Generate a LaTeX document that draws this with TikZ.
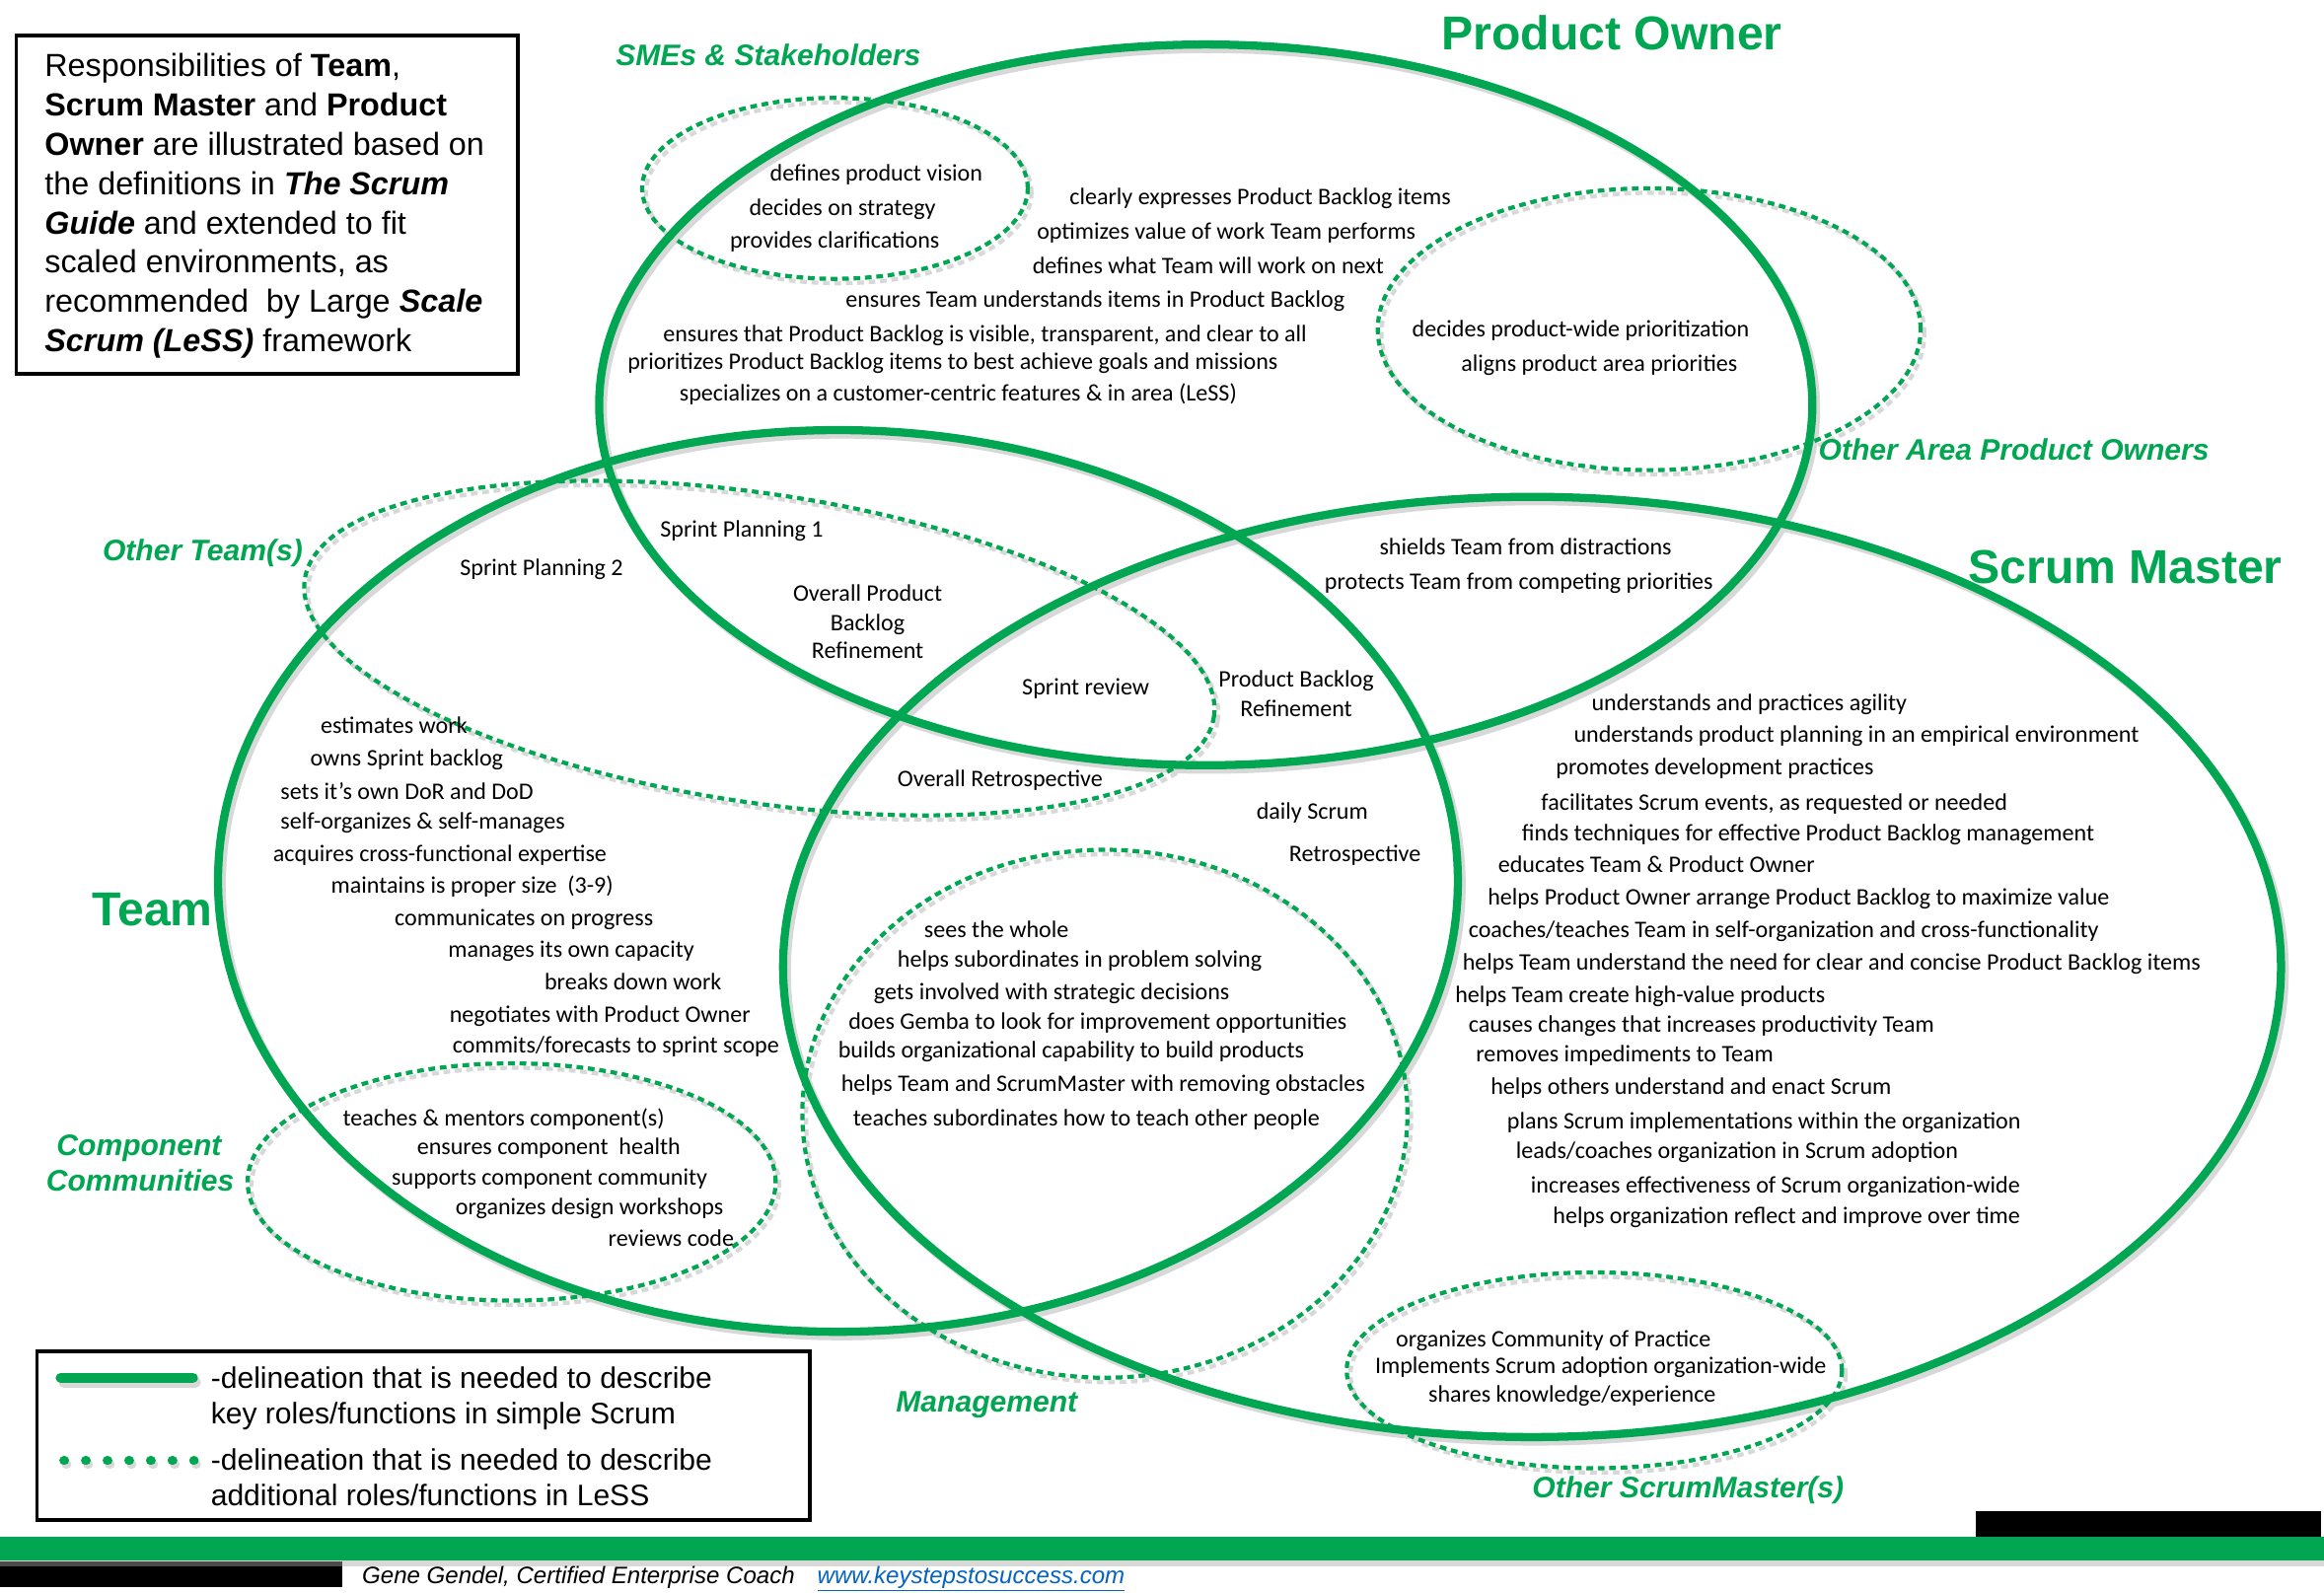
\documentclass[tikz,border=0pt]{standalone}
\usepackage{fontspec}
\usetikzlibrary{calc}
\setmainfont{Carlito}
\newfontfamily\arial{Liberation Sans}
\definecolor{grn}{RGB}{0,166,81}
\definecolor{shd}{RGB}{216,216,216}
\definecolor{lnk}{RGB}{5,99,193}
\begin{document}
\begin{tikzpicture}[x=1pt,y=-1pt,
  ring/.style={draw=grn, line width=5.5pt},
  ringshd/.style={draw=shd, line width=5.5pt},
  dring/.style={draw=grn, line width=2.8pt, dash pattern=on 4.5pt off 3.2pt},
  dringshd/.style={draw=shd, line width=2.8pt, dash pattern=on 4.5pt off 3.2pt},
  txt/.style={anchor=west, inner sep=0pt, font=\fontsize{16}{19}\selectfont, text height=10.5pt, text depth=0pt},
  ctxt/.style={txt, anchor=center},
  lab/.style={anchor=west, inner sep=0pt, text=grn, font=\arial\bfseries\itshape\fontsize{20}{24}\selectfont, text height=14.3pt, text depth=0pt},
  biglab/.style={lab, font=\arial\bfseries\fontsize{32}{38}\selectfont, text height=22.9pt},
  boxtxt/.style={anchor=west, inner sep=0pt, font=\arial\fontsize{21.5}{26}\selectfont, text height=15.4pt, text depth=0pt},
  legtxt/.style={anchor=west, inner sep=0pt, font=\arial\fontsize{20}{24}\selectfont, text height=14.3pt, text depth=0pt},
  foottxt/.style={anchor=west, inner sep=0pt, font=\arial\itshape\fontsize{16}{19}\selectfont, text height=11.5pt, text depth=0pt}
]
\useasboundingbox (0,0) rectangle (1567,1073.5);
\fill[white] (0,0) rectangle (1567,1073.5);

% ---------- shadows ----------
\begin{scope}[shift={(2.5,3)}]
  \draw[dringshd] (563,127) ellipse [x radius=130pt, y radius=61pt];
  \draw[dringshd] (1112,222) ellipse [x radius=183pt, y radius=95pt];
  \draw[dringshd, rotate around={-8.6:(512,437)}] (512,437) ellipse [x radius=310pt, y radius=104pt];
  \draw[dringshd] (745,751) ellipse [x radius=204pt, y radius=178pt];
  \draw[dringshd] (345,797) ellipse [x radius=178pt, y radius=80pt];
  \draw[dringshd] (1075,924) ellipse [x radius=167pt, y radius=66pt];
  \draw[ringshd] (813,273) ellipse [x radius=409pt, y radius=243pt];
  \draw[ringshd] (565,594) ellipse [x radius=418pt, y radius=304pt];
  \draw[ringshd] (1033,652) ellipse [x radius=505pt, y radius=317pt];
\end{scope}

% ---------- dashed (LeSS) ellipses ----------
\draw[dring] (563,127) ellipse [x radius=130pt, y radius=61pt];
\draw[dring] (1112,222) ellipse [x radius=183pt, y radius=95pt];
\draw[dring, rotate around={-8.6:(512,437)}] (512,437) ellipse [x radius=310pt, y radius=104pt];
\draw[dring] (745,751) ellipse [x radius=204pt, y radius=178pt];
\draw[dring] (345,797) ellipse [x radius=178pt, y radius=80pt];
\draw[dring] (1075,924) ellipse [x radius=167pt, y radius=66pt];

% ---------- solid (Scrum) ellipses ----------
\draw[ring] (813,273) ellipse [x radius=409pt, y radius=243pt];
\draw[ring] (565,594) ellipse [x radius=418pt, y radius=304pt];
\draw[ring] (1033,652) ellipse [x radius=505pt, y radius=317pt];

% ---------- description box ----------
\draw[line width=2.5pt] (11,24) rectangle (349,252);
\node[boxtxt] (d1) at (30,44) {Responsibilities of \textbf{Team},};
\node[boxtxt] (d2) at (30,70.5) {\textbf{Scrum Master} and \textbf{Product}};
\node[boxtxt] (d3) at (30,97) {\textbf{Owner} are illustrated based on};
\node[boxtxt] (d4) at (30,123.5) {the definitions in \textbf{\itshape The Scrum}};
\node[boxtxt] (d5) at (30,150) {\textbf{\itshape Guide} and extended to fit};
\node[boxtxt] (d6) at (30,176.5) {scaled environments, as};
\node[boxtxt] (d7) at (30,203) {recommended\ \ by Large \textbf{\itshape Scale}};
\node[boxtxt] (d8) at (30,229.5) {\textbf{\itshape Scrum (LeSS)} framework};

% ---------- labels ----------
\node[biglab] (lpo) at (972,22) {Product Owner};
\node[biglab] (lsm) at (1327,382) {Scrum Master};
\node[biglab] (lteam) at (62,613) {Team};
\node[lab] (lsme) at (415,37) {SMEs \& Stakeholders};
\node[lab] (loapo) at (1226,303) {Other Area Product Owners};
\node[lab] (lot) at (69,371) {Other Team(s)};
\node[lab] (lcc1) at (38,772) {Component};
\node[lab] (lcc2) at (31,796) {Communities};
\node[lab] (lmg) at (604,945) {Management};
\node[lab] (losm) at (1033,1003) {Other ScrumMaster(s)};

% ---------- SMEs ----------
\node[txt] (sme1) at (519,117) {defines product vision};
\node[txt] (sme2) at (505,140) {decides on strategy};
\node[txt] (sme3) at (492,162) {provides clarifications};

% ---------- Product Owner ----------
\node[txt] (po1) at (721,133) {clearly expresses Product Backlog items};
\node[txt] (po2) at (699,156) {optimizes value of work Team performs};
\node[txt] (po3) at (696,179) {defines what Team will work on next};
\node[txt] (po4) at (570,202) {ensures Team understands items in Product Backlog};
\node[txt] (po5) at (447,225) {ensures that Product Backlog is visible, transparent, and clear to all};
\node[txt] (po6) at (423,244) {prioritizes Product Backlog items to best achieve goals and missions};
\node[txt] (po7) at (458,265) {specializes on a customer-centric features \& in area (LeSS)};

% ---------- Other Area POs ----------
\node[txt] (oa1) at (952,222) {decides product-wide prioritization};
\node[txt] (oa2) at (985,245) {aligns product area priorities};

% ---------- intersections ----------
\node[txt] (sp1) at (445,357) {Sprint Planning 1};
\node[txt] (sp2) at (310,383) {Sprint Planning 2};
\node[ctxt] (opb1) at (585,400) {Overall Product};
\node[ctxt] (opb2) at (585,420) {Backlog};
\node[ctxt] (opb3) at (585,439) {Refinement};
\node[txt] (srev) at (689,463) {Sprint review};
\node[ctxt] (pbr1) at (874,458) {Product Backlog};
\node[ctxt] (pbr2) at (874,478) {Refinement};
\node[txt] (oret) at (605,525) {Overall Retrospective};
\node[txt] (sh1) at (930,369) {shields Team from distractions};
\node[txt] (sh2) at (893,392) {protects Team from competing priorities};
\node[txt] (dsc) at (847,547) {daily Scrum};
\node[txt] (ret) at (869,576) {Retrospective};

% ---------- Team ----------
\node[txt] (tm1) at (216,489) {estimates work};
\node[txt] (tm2) at (209,511) {owns Sprint backlog};
\node[txt] (tm3) at (189,534) {sets it’s own DoR and DoD};
\node[txt] (tm4) at (189,554) {self-organizes \& self-manages};
\node[txt] (tm5) at (184,576) {acquires cross-functional expertise};
\node[txt] (tm6) at (223,597) {maintains is proper size\ \ (3-9)};
\node[txt] (tm7) at (266,619) {communicates on progress};
\node[txt] (tm8) at (302,640) {manages its own capacity};
\node[txt] (tm9) at (367,662) {breaks down work};
\node[txt] (tm10) at (303,684) {negotiates with Product Owner};
\node[txt] (tm11) at (305,705) {commits/forecasts to sprint scope};

% ---------- Management ----------
\node[txt] (mg1) at (623,627) {sees the whole};
\node[txt] (mg2) at (605,647) {helps subordinates in problem solving};
\node[txt] (mg3) at (589,669) {gets involved with strategic decisions};
\node[txt] (mg4) at (572,689) {does Gemba to look for improvement opportunities};
\node[txt] (mg5) at (565,708) {builds organizational capability to build products};
\node[txt] (mg6) at (567,731) {helps Team and ScrumMaster with removing obstacles};
\node[txt] (mg7) at (575,754) {teaches subordinates how to teach other people};

% ---------- Component Communities ----------
\node[txt] (cc1) at (231,754) {teaches \& mentors component(s)};
\node[txt] (cc2) at (281,773) {ensures component\ \ health};
\node[txt] (cc3) at (264,794) {supports component community};
\node[txt] (cc4) at (307,814) {organizes design workshops};
\node[txt] (cc5) at (410,835) {reviews code};

% ---------- Scrum Master ----------
\node[txt] (sm1) at (1073,474) {understands and practices agility};
\node[txt] (sm2) at (1061,495) {understands product planning in an empirical environment};
\node[txt] (sm3) at (1049,517) {promotes development practices};
\node[txt] (sm4) at (1039,541) {facilitates Scrum events, as requested or needed};
\node[txt] (sm5) at (1026,562) {finds techniques for effective Product Backlog management};
\node[txt] (sm6) at (1010,583) {educates Team \& Product Owner};
\node[txt] (sm7) at (1003,605) {helps Product Owner arrange Product Backlog to maximize value};
\node[txt] (sm8) at (990,627) {coaches/teaches Team in self-organization and cross-functionality};
\node[txt] (sm9) at (986,649) {helps Team understand the need for clear and concise Product Backlog items};
\node[txt] (sm10) at (981,671) {helps Team create high-value products};
\node[txt] (sm11) at (990,691) {causes changes that increases productivity Team};
\node[txt] (sm12) at (995,711) {removes impediments to Team};
\node[txt] (sm13) at (1005,733) {helps others understand and enact Scrum};
\node[txt] (sm14) at (1016,756) {plans Scrum implementations within the organization};
\node[txt] (sm15) at (1022,776) {leads/coaches organization in Scrum adoption};
\node[txt] (sm16) at (1032,799) {increases effectiveness of Scrum organization-wide};
\node[txt] (sm17) at (1047,820) {helps organization reflect and improve over time};

% ---------- Other ScrumMasters ----------
\node[txt] (os1) at (941,903) {organizes Community of Practice};
\node[txt] (os2) at (927,921) {Implements Scrum adoption organization-wide};
\node[txt] (os3) at (963,940) {shares knowledge/experience};

% ---------- legend ----------
\draw[line width=2.5pt] (25,911) rectangle (546,1025);
\coordinate (ls1) at (41,929);
\coordinate (ls2) at (130,929);
\coordinate (ld1) at (43,985);
\coordinate (ld2) at (131,985);
\draw[draw=shd, line width=7pt, line cap=round] ($(ls1)+(2,3)$) -- ($(ls2)+(2,3)$);
\draw[draw=grn, line width=7pt, line cap=round] (ls1) -- (ls2);
\draw[draw=shd, line width=6pt, line cap=round, dash pattern=on 0.6pt off 14pt] ($(ld1)+(1.5,2.5)$) -- ($(ld2)+(1.5,2.5)$);
\draw[draw=grn, line width=6pt, line cap=round, dash pattern=on 0.6pt off 14pt] (ld1) -- (ld2);
\node[legtxt] (lg1) at (142,929) {-delineation that is needed to describe};
\node[legtxt] (lg2) at (142,953) {key roles/functions in simple Scrum};
\node[legtxt] (lg3) at (142,984) {-delineation that is needed to describe};
\node[legtxt] (lg4) at (142,1008) {additional roles/functions in LeSS};

% ---------- footer ----------
\fill[black] (1332,1019) rectangle (1565,1036);
\fill[shd] (0,1052) rectangle (1567,1056);
\fill[grn] (0,1036) rectangle (1567,1052);
\fill[black!70] (0,1053) rectangle (231,1056);
\fill[black] (0,1056) rectangle (231,1070);
\node[foottxt] (f1) at (244,1062) {Gene Gendel, Certified Enterprise Coach};
\node[foottxt, text=lnk] (f2) at (551,1062) {\underline{www.keystepstosuccess.com}};
\end{tikzpicture}
\end{document}
